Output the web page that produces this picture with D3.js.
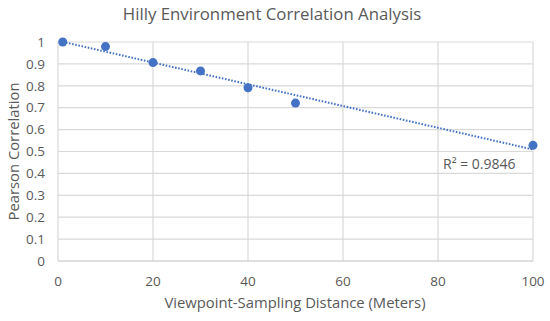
<!DOCTYPE html>
<html>
<head>
<meta charset="utf-8">
<script src="https://cdn.jsdelivr.net/npm/d3@7"></script>
<style>
  body { margin: 0; background: #fff; }
  text { font-family: "Open Sans", "Noto Sans", sans-serif; fill: #595959; }
</style>
</head>
<body>
<script>
// data
var distance = [1, 10, 20, 30, 40, 50, 100];
var correlation = [1.0, 0.979, 0.906, 0.868, 0.791, 0.721, 0.528];
var xTicks = [0, 20, 40, 60, 80, 100];
var yTicks = [0, 0.1, 0.2, 0.3, 0.4, 0.5, 0.6, 0.7, 0.8, 0.9, 1];
var r2Label = "R\u00b2 = 0.9846";

var W = 550, H = 321;
var margin = {top: 42, right: 17, bottom: 60, left: 58};
var width = W - margin.left - margin.right,
    height = H - margin.top - margin.bottom;

var x = d3.scaleLinear().domain([0, 100]).range([0, width]);
var y = d3.scaleLinear().domain([0, 1]).range([height, 0]);

var svg = d3.select("body").append("svg")
    .attr("width", W)
    .attr("height", H);

var g = svg.append("g")
    .attr("transform", "translate(" + margin.left + "," + margin.top + ")");

// title
svg.append("text")
    .attr("x", 272)
    .attr("y", 20)
    .style("text-anchor", "middle")
    .style("font-size", "16.8px")
    .text("Hilly Environment Correlation Analysis");

// horizontal gridlines
g.selectAll(".hgrid")
    .data(yTicks.slice(1))
    .enter().append("line")
    .attr("x1", 0).attr("x2", width)
    .attr("y1", function(d) { return y(d); })
    .attr("y2", function(d) { return y(d); })
    .attr("stroke", "#d9d9d9")
    .attr("stroke-width", 1.2);

// vertical gridlines
g.selectAll(".vgrid")
    .data(xTicks)
    .enter().append("line")
    .attr("x1", function(d) { return x(d); })
    .attr("x2", function(d) { return x(d); })
    .attr("y1", 0).attr("y2", height)
    .attr("stroke", "#d9d9d9")
    .attr("stroke-width", 1.2);

// x axis line
g.append("line")
    .attr("x1", 0).attr("x2", width)
    .attr("y1", height).attr("y2", height)
    .attr("stroke", "#bfbfbf")
    .attr("stroke-width", 1.2);

// tick labels
g.selectAll(".ylab")
    .data(yTicks)
    .enter().append("text")
    .attr("x", -13)
    .attr("y", function(d) { return y(d); })
    .attr("dy", "0.35em")
    .style("text-anchor", "end")
    .style("font-size", "13.5px")
    .text(function(d) { return d3.format("")(d); });

g.selectAll(".xlab")
    .data(xTicks)
    .enter().append("text")
    .attr("x", function(d) { return x(d); })
    .attr("y", height + 25)
    .style("text-anchor", "middle")
    .style("font-size", "13.5px")
    .text(function(d) { return d; });

// axis titles
svg.append("text")
    .attr("x", 295)
    .attr("y", 308)
    .style("text-anchor", "middle")
    .style("font-size", "14.8px")
    .text("Viewpoint-Sampling Distance (Meters)");

svg.append("text")
    .attr("transform", "translate(19," + (margin.top + height / 2) + ") rotate(-90)")
    .style("text-anchor", "middle")
    .style("font-size", "14.8px")
    .text("Pearson Correlation");

// linear trendline (least squares)
var n = distance.length;
var mx = d3.mean(distance), my = d3.mean(correlation);
var sxy = 0, sxx = 0;
for (var i = 0; i < n; i++) {
  sxy += (distance[i] - mx) * (correlation[i] - my);
  sxx += (distance[i] - mx) * (distance[i] - mx);
}
var slope = sxy / sxx, intercept = my - slope * mx;
var x0 = d3.min(distance), x1 = d3.max(distance);

g.append("line")
    .attr("x1", x(x0)).attr("y1", y(intercept + slope * x0))
    .attr("x2", x(x1)).attr("y2", y(intercept + slope * x1))
    .attr("stroke", "#4472c4")
    .attr("stroke-width", 2)
    .attr("stroke-dasharray", "1.6,1.6");

// points
g.selectAll(".dot")
    .data(distance)
    .enter().append("circle")
    .attr("cx", function(d) { return x(d); })
    .attr("cy", function(d, i) { return y(correlation[i]); })
    .attr("r", 4.5)
    .attr("fill", "#4472c4");

// R squared label
svg.append("text")
    .attr("x", 443)
    .attr("y", 169)
    .style("font-size", "14px")
    .text(r2Label);
</script>
</body>
</html>
